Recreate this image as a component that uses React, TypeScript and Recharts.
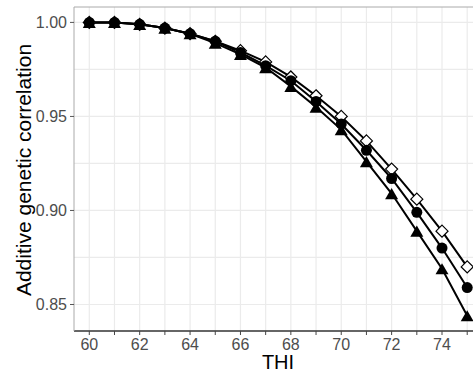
import React from "react";
import {
  LineChart,
  Line,
  XAxis,
  YAxis,
  CartesianGrid,
  ReferenceLine,
} from "recharts";

const thi = [60, 61, 62, 63, 64, 65, 66, 67, 68, 69, 70, 71, 72, 73, 74, 75];
const diamondValues = [1.0, 1.0, 0.999, 0.997, 0.994, 0.99, 0.985, 0.979, 0.971, 0.961, 0.95, 0.937, 0.922, 0.906, 0.889, 0.87];
const circleValues = [1.0, 1.0, 0.999, 0.997, 0.994, 0.99, 0.984, 0.977, 0.969, 0.958, 0.946, 0.932, 0.917, 0.899, 0.88, 0.859];
const triangleValues = [1.0, 1.0, 0.999, 0.997, 0.994, 0.989, 0.983, 0.976, 0.966, 0.955, 0.943, 0.926, 0.909, 0.889, 0.869, 0.844];
const yTicks = [0.85, 0.9, 0.95, 1.0];
const yMinorTicks = [0.875, 0.925, 0.975];

const X_DOMAIN: [number, number] = [59.393, 75.23];
const Y_DOMAIN: [number, number] = [0.8359, 1.0082];

const FONT = "'Liberation Sans', Arial, sans-serif";

const data = thi.map((t, i) => ({
  thi: t,
  diamond: diamondValues[i],
  circle: circleValues[i],
  triangle: triangleValues[i],
}));

const renderDiamond = (props: any) => {
  const { cx, cy, index } = props;
  if (cx == null || cy == null) return <g key={`d-${index}`} />;
  const s = 6;
  return (
    <path
      key={`d-${index}`}
      d={`M${cx},${cy - s} L${cx + s},${cy} L${cx},${cy + s} L${cx - s},${cy} Z`}
      fill="#fff"
      stroke="#000"
      strokeWidth={1.2}
    />
  );
};

const renderCircle = (props: any) => {
  const { cx, cy, index } = props;
  if (cx == null || cy == null) return <g key={`c-${index}`} />;
  return <circle key={`c-${index}`} cx={cx} cy={cy} r={5.5} fill="#000" />;
};

const renderTriangle = (props: any) => {
  const { cx, cy, index } = props;
  if (cx == null || cy == null) return <g key={`t-${index}`} />;
  const w = 6.5;
  const h = 5.6;
  return (
    <path
      key={`t-${index}`}
      d={`M${cx},${cy - h} L${cx + w},${cy + h} L${cx - w},${cy + h} Z`}
      fill="#000"
    />
  );
};

export default function App() {
  return (
    <div style={{ position: "absolute", left: 0, top: 0, width: 473, height: 372, background: "#fff" }}>
      <LineChart
        width={473}
        height={372}
        data={data}
        margin={{ top: 7, right: 0, bottom: 0, left: 0 }}
      >
        <CartesianGrid
          horizontal={false}
          verticalValues={thi}
          stroke="#ebebeb"
          strokeWidth={1.2}
        />
        <CartesianGrid
          vertical={false}
          horizontalValues={[...yTicks, ...yMinorTicks]}
          stroke="#ebebeb"
          strokeWidth={1.2}
        />
        <XAxis
          type="number"
          dataKey="thi"
          domain={X_DOMAIN}
          allowDataOverflow
          ticks={thi}
          interval={0}
          tickFormatter={(v: number) => (v % 2 === 0 ? String(v) : "")}
          height={41}
          tickSize={4}
          tickMargin={4}
          axisLine={{ stroke: "#333", strokeWidth: 1.3 }}
          tickLine={{ stroke: "#444" }}
          tick={{ fontSize: 16, fill: "#4d4d4d", fontFamily: FONT }}
          label={{
            content: () => (
              <text x={278} y={369} textAnchor="middle" fontSize={20} fill="#000" fontFamily={FONT}>
                THI
              </text>
            ),
          }}
        />
        <YAxis
          type="number"
          domain={Y_DOMAIN}
          allowDataOverflow
          ticks={yTicks}
          interval={0}
          tickFormatter={(v: number) => v.toFixed(2)}
          width={74}
          tickSize={4}
          tickMargin={3}
          axisLine={{ stroke: "#aaa" }}
          tickLine={{ stroke: "#555" }}
          tick={{ fontSize: 16, fill: "#4d4d4d", fontFamily: FONT }}
          label={{
            content: () => (
              <text
                x={31}
                y={170}
                textAnchor="middle"
                fontSize={21}
                fill="#000"
                fontFamily={FONT}
                transform="rotate(-90 31 170)"
              >
                Additive genetic correlation
              </text>
            ),
          }}
        />
        <ReferenceLine y={Y_DOMAIN[1]} stroke="#aaa" />
        <Line dataKey="diamond" stroke="#000" strokeWidth={2} dot={false} activeDot={false} isAnimationActive={false} />
        <Line dataKey="circle" stroke="#000" strokeWidth={2} dot={false} activeDot={false} isAnimationActive={false} />
        <Line dataKey="triangle" stroke="#000" strokeWidth={2} dot={false} activeDot={false} isAnimationActive={false} />
        <Line dataKey="diamond" stroke="none" dot={renderDiamond} activeDot={false} isAnimationActive={false} />
        <Line dataKey="circle" stroke="none" dot={renderCircle} activeDot={false} isAnimationActive={false} />
        <Line dataKey="triangle" stroke="none" dot={renderTriangle} activeDot={false} isAnimationActive={false} />
      </LineChart>
    </div>
  );
}
